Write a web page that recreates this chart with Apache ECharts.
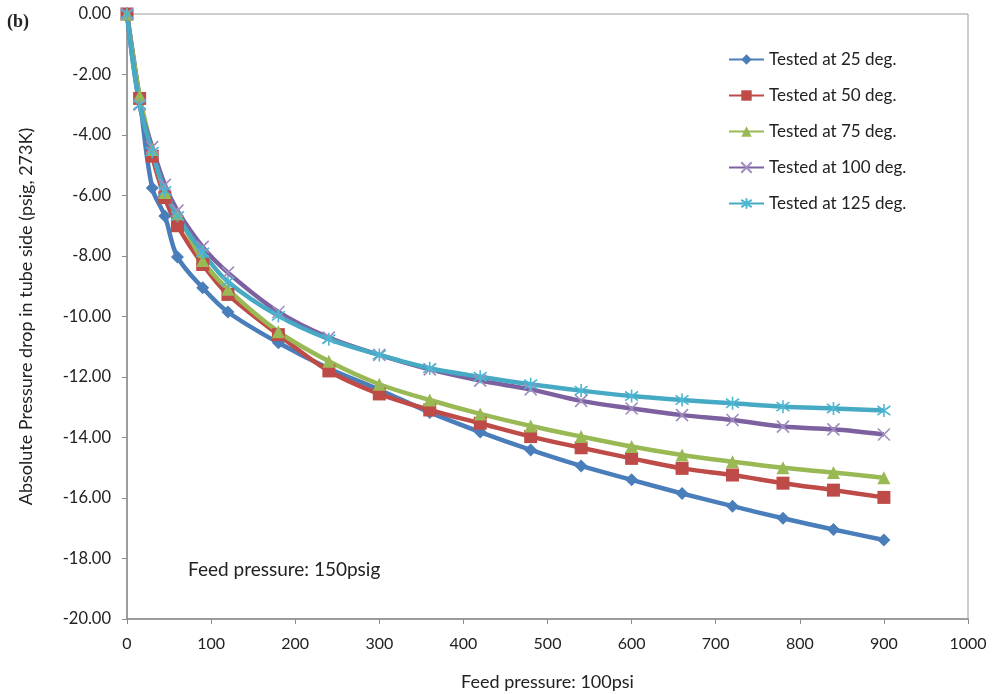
<!DOCTYPE html>
<html>
<head>
<meta charset="utf-8">
<script src="https://cdn.jsdelivr.net/npm/echarts@6/dist/echarts.min.js"></script>
<style>
  html, body { margin: 0; padding: 0; background: #fff; }
  #chart { width: 992px; height: 694px; }
</style>
</head>
<body>
<div id="chart"></div>
<script>
// Feed-side pressure steps (x) shared by every test temperature
const feedPressure = [0, 15, 30, 45, 60, 90, 120, 180, 240, 300, 360, 420, 480, 540, 600, 660, 720, 780, 840, 900];

// Absolute pressure drop in tube side for each test temperature
const tested25 = [0, -2.8, -5.75, -6.68, -8.03, -9.05, -9.85, -10.87, -11.72, -12.42, -13.17, -13.82, -14.41, -14.94, -15.40, -15.85, -16.27, -16.67, -17.04, -17.39];
const tested50 = [0, -2.79, -4.7, -6.07, -7.0, -8.28, -9.27, -10.6, -11.8, -12.56, -13.09, -13.53, -13.97, -14.34, -14.69, -15.02, -15.24, -15.51, -15.74, -15.98];
const tested75 = [0, -2.7, -4.48, -5.9, -6.6, -8.15, -9.1, -10.5, -11.48, -12.24, -12.76, -13.22, -13.62, -13.97, -14.30, -14.58, -14.80, -15.0, -15.16, -15.33];
const tested100 = [0, -3.0, -4.4, -5.65, -6.5, -7.7, -8.55, -9.85, -10.7, -11.27, -11.75, -12.12, -12.41, -12.79, -13.04, -13.26, -13.42, -13.64, -13.73, -13.90];
const tested125 = [0, -3.0, -4.55, -5.85, -6.68, -7.88, -8.85, -9.98, -10.75, -11.27, -11.71, -11.99, -12.24, -12.45, -12.63, -12.76, -12.87, -12.98, -13.04, -13.11];

const seriesNames = ['Tested at 25 deg.', 'Tested at 50 deg.', 'Tested at 75 deg.', 'Tested at 100 deg.', 'Tested at 125 deg.'];

const FONT = 'Lato, "Open Sans", sans-serif';

function pairs(ys) {
  return feedPressure.map((x, i) => [x, ys[i]]);
}

const xSymbol = 'path://M0,0L10,10M10,0L0,10';
const starSymbol = 'path://M0,1.5L10,8.5M10,1.5L0,8.5M5,0L5,10';

function lineSeries(name, ys, color, symbol, size, extraItem) {
  return {
    name: name,
    type: 'line',
    data: pairs(ys),
    smooth: 0.35,
    symbol: symbol,
    symbolSize: size,
    color: color,
    lineStyle: { width: 4.5, color: color },
    itemStyle: Object.assign({ color: color }, extraItem || {}),
    emphasis: { disabled: true },
    z: 2
  };
}

const chart = echarts.init(document.getElementById('chart'), null, { renderer: 'canvas' });

chart.setOption({
  animation: false,
  backgroundColor: '#ffffff',
  grid: {
    left: 127, right: 24, top: 14, bottom: 75,
    outerBoundsMode: 'none',
    containLabel: false,
    show: true, borderColor: '#9a9a9a', borderWidth: 1, backgroundColor: 'transparent'
  },
  legend: {
    orient: 'vertical',
    left: 728,
    top: 51,
    padding: 0,
    itemWidth: 35,
    itemHeight: 13,
    itemGap: 19,
    data: seriesNames,
    textStyle: { fontFamily: FONT, fontSize: 17, color: '#222' }
  },
  xAxis: {
    type: 'value',
    min: 0, max: 1000, interval: 100,
    name: 'Feed pressure: 100psi',
    nameLocation: 'middle',
    nameGap: 54,
    nameTextStyle: { fontFamily: FONT, fontSize: 18, color: '#222' },
    axisLine: { show: true, onZero: false, lineStyle: { color: '#8c8c8c', width: 1.5 } },
    axisTick: { show: true, length: 5, lineStyle: { color: '#8c8c8c' } },
    axisLabel: { fontFamily: FONT, fontSize: 16, color: '#222', margin: 17, formatter: v => String(v) },
    splitLine: { show: false }
  },
  yAxis: {
    type: 'value',
    min: -20, max: 0, interval: 2,
    name: 'Absolute Pressure drop in tube side (psig, 273K)',
    nameLocation: 'middle',
    nameRotate: 90,
    nameGap: 92,
    nameTextStyle: { fontFamily: FONT, fontSize: 18, color: '#222' },
    axisLine: { show: true, onZero: false, lineStyle: { color: '#8c8c8c', width: 1.5 } },
    axisTick: { show: true, length: 5, lineStyle: { color: '#8c8c8c' } },
    axisLabel: {
      fontFamily: FONT, fontSize: 16.5, color: '#222', margin: 16,
      formatter: v => v.toFixed(2)
    },
    splitLine: { show: false }
  },
  graphic: [
    {
      type: 'text', left: 7, top: 13,
      style: { text: '(b)', font: 'bold 18px "Liberation Serif", "DejaVu Serif", serif', fill: '#222' }
    },
    {
      type: 'text', left: 188, top: 560,
      style: { text: 'Feed pressure: 150psig', font: '19px ' + FONT, fill: '#222' }
    }
  ],
  series: [
    lineSeries(seriesNames[0], tested25, '#4a7ebb', 'diamond', 13),
    lineSeries(seriesNames[1], tested50, '#be4b48', 'rect', 13),
    lineSeries(seriesNames[2], tested75, '#98b954', 'triangle', 13),
    lineSeries(seriesNames[3], tested100, '#7d60a0', xSymbol, 12, { borderColor: '#a08cc0', borderWidth: 1.6 }),
    lineSeries(seriesNames[4], tested125, '#46aac5', starSymbol, 13, { borderColor: '#4bb7d2', borderWidth: 1.6 })
  ]
});
</script>
</body>
</html>
